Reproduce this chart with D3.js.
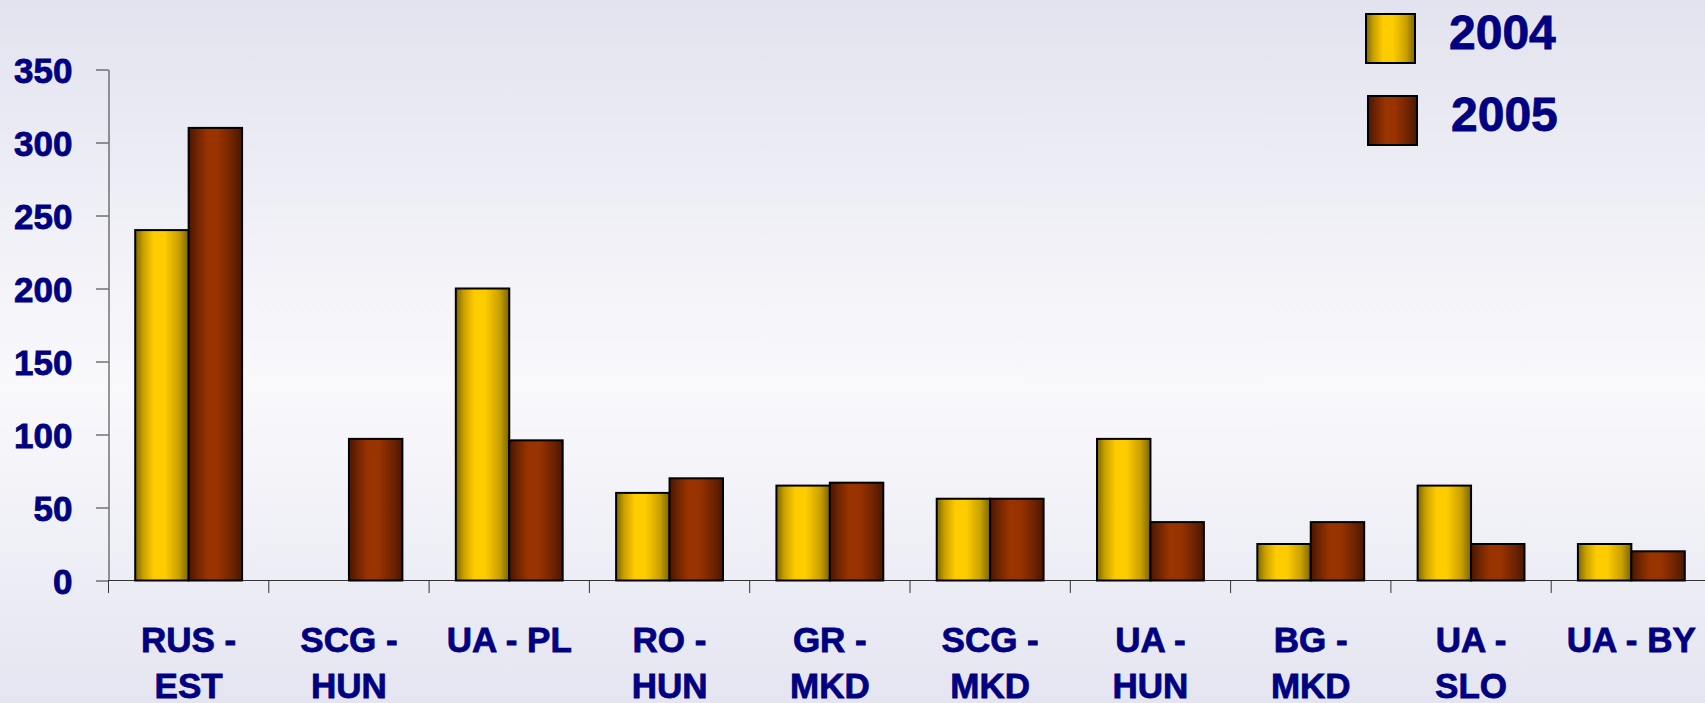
<!DOCTYPE html>
<html>
<head>
<meta charset="utf-8">
<script src="https://cdn.jsdelivr.net/npm/d3@7"></script>
<style>
body { margin:0; padding:0; overflow:hidden; }
svg { display:block; }
text { font-family: "Liberation Sans", Arial, sans-serif; font-weight: bold; fill: #000080;
       stroke: #000080; stroke-width: 0.8px; }
</style>
</head>
<body>
<div id="chart"></div>
<script>
// data
var categories = ["RUS - EST", "SCG - HUN", "UA - PL", "RO - HUN", "GR - MKD",
                  "SCG - MKD", "UA - HUN", "BG - MKD", "UA - SLO", "UA - BY"]
var labelLines = [["RUS -", "EST"], ["SCG -", "HUN"], ["UA - PL"], ["RO -", "HUN"], ["GR -", "MKD"],
                  ["SCG -", "MKD"], ["UA -", "HUN"], ["BG -", "MKD"], ["UA -", "SLO"], ["UA - BY"]]
var years = ["2004", "2005"]
var values2004 = [240, 0, 200, 60, 65, 56, 97, 25, 65, 25]
var values2005 = [310, 97, 96, 70, 67, 56, 40, 40, 25, 20]
var yTicks = [0, 50, 100, 150, 200, 250, 300, 350]

var W = 1705, H = 703
var left = 108.5, y0 = 580.5, yTop = 69.5
var band = 160.3

var svg = d3.select("#chart").append("svg")
    .attr("width", W).attr("height", H)

var defs = svg.append("defs")

// background
var bg = defs.append("linearGradient").attr("id", "bg")
    .attr("x1", 0).attr("y1", 0).attr("x2", 0).attr("y2", 1)
bg.append("stop").attr("offset", "0%").attr("stop-color", "#e3e3ef")
bg.append("stop").attr("offset", "55%").attr("stop-color", "#f9f9fc")
bg.append("stop").attr("offset", "100%").attr("stop-color", "#e5e5f1")
svg.append("rect").attr("width", W).attr("height", H).attr("fill", "url(#bg)")

// bar gradients (cylinder look)
function barGrad(id, dark, light, mid) {
  var g = defs.append("linearGradient").attr("id", id)
      .attr("x1", 0).attr("y1", 0).attr("x2", 1).attr("y2", 0)
  g.append("stop").attr("offset", "0%").attr("stop-color", dark)
  g.append("stop").attr("offset", "15%").attr("stop-color", mid)
  g.append("stop").attr("offset", "35%").attr("stop-color", light)
  g.append("stop").attr("offset", "55%").attr("stop-color", light)
  g.append("stop").attr("offset", "82%").attr("stop-color", mid)
  g.append("stop").attr("offset", "100%").attr("stop-color", dark)
}
barGrad("g2004", "#7a6400", "#ffcc00", "#c9a000")
barGrad("g2005", "#4a1600", "#993300", "#6e2400")

var color = { "2004": "url(#g2004)", "2005": "url(#g2005)" }
var seriesValues = { "2004": values2004, "2005": values2005 }

var x = d3.scaleBand().domain(categories).range([left, left + band * categories.length])
var x1 = d3.scaleBand().domain(years).range([x.bandwidth() / 6, x.bandwidth() * 5 / 6])
var y = d3.scaleLinear().domain([0, 350]).range([y0, yTop])

// y axis
var yAxis = svg.append("g")
    .attr("transform", "translate(" + left + ",0)")
    .call(d3.axisLeft(y).tickValues(yTicks).tickSize(12.5).tickPadding(23.5).tickSizeOuter(0))
yAxis.select(".domain").attr("stroke", "#333")
yAxis.selectAll(".tick line").attr("stroke", "#333")
yAxis.selectAll(".tick text")
    .attr("fill", "#000080")
    .style("font-size", "35px")
    .attr("dy", "0.36em")
// axis line reaches a little below zero
svg.append("line").attr("x1", left).attr("x2", left).attr("y1", y0).attr("y2", y0 + 12.5)
    .attr("stroke", "#333")

// x axis
svg.append("line").attr("x1", left).attr("x2", W).attr("y1", y0).attr("y2", y0)
    .attr("stroke", "#333")
svg.append("g").selectAll("line").data(categories).enter().append("line")
    .attr("x1", d => x(d)).attr("x2", d => x(d))
    .attr("y1", y0).attr("y2", y0 + 12.5)
    .attr("stroke", "#333")

// bars
var groups = svg.append("g").selectAll("g").data(categories).enter().append("g")
    .attr("transform", d => "translate(" + x(d) + ",0)")
groups.selectAll("rect")
    .data((d, i) => years.map(yr => ({ year: yr, value: seriesValues[yr][i] })).filter(e => e.value > 0))
    .enter().append("rect")
    .attr("x", d => x1(d.year))
    .attr("y", d => y(d.value))
    .attr("width", x1.bandwidth())
    .attr("height", d => y0 - y(d.value))
    .attr("fill", d => color[d.year])
    .attr("stroke", "#000")
    .attr("stroke-width", 2)

// category labels
var lab = svg.append("g").selectAll("text").data(categories).enter().append("text")
    .attr("x", d => x(d) + x.bandwidth() / 2)
    .attr("y", 652)
    .attr("text-anchor", "middle")
    .style("font-size", "35px")
lab.selectAll("tspan").data((d, i) => labelLines[i]).enter().append("tspan")
    .attr("x", function() { return d3.select(this.parentNode).attr("x") })
    .attr("dy", (d, i) => i === 0 ? 0 : 46)
    .text(d => d)

// legend
var legend = svg.append("g").selectAll("g").data(years).enter().append("g")
    .attr("transform", (d, i) => "translate(" + (1366 + i * 2) + "," + (14 + i * 82) + ")")
legend.append("rect")
    .attr("width", 49).attr("height", 49)
    .attr("fill", d => color[d])
    .attr("stroke", "#000").attr("stroke-width", 2)
legend.append("text")
    .attr("x", 83 - 0).attr("y", 35)
    .style("font-size", "48px")
    .text(d => d)
</script>
</body>
</html>
